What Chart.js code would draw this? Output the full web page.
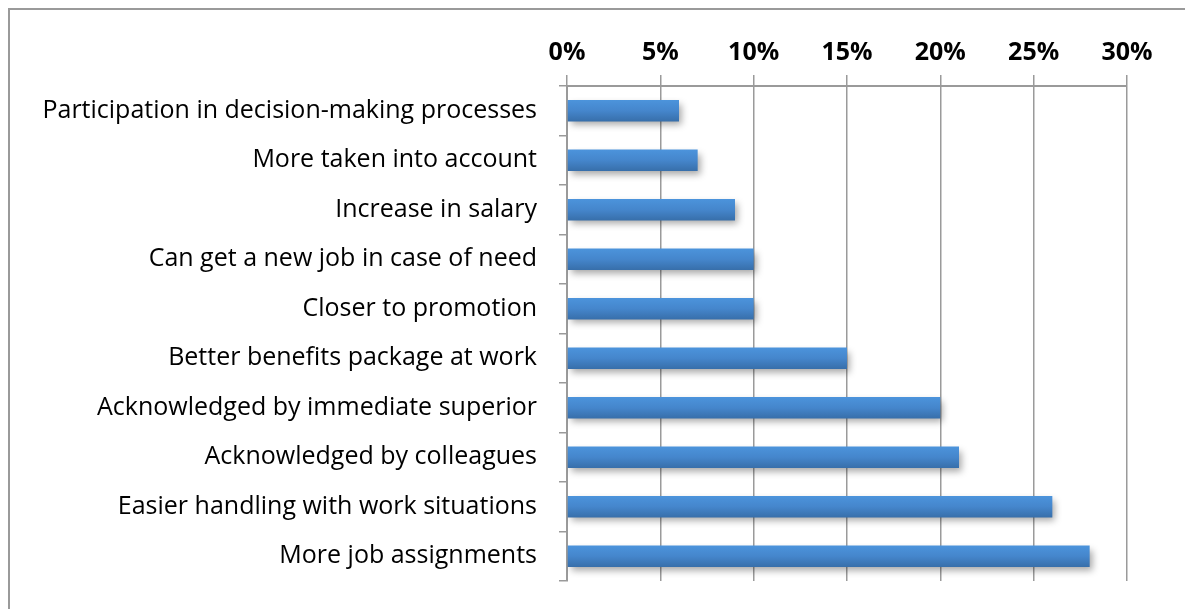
<!DOCTYPE html>
<html>
<head>
<meta charset="utf-8">
<script src="https://cdn.jsdelivr.net/npm/chart.js@4/dist/chart.umd.min.js"></script>
<style>
  html, body { margin: 0; padding: 0; background: #fff; }
  #wrap { position: relative; width: 1185px; height: 609px; }
</style>
</head>
<body>
<div id="wrap"><canvas id="chart"></canvas></div>
<script>
// ---------- data ----------
const categories = [
  "Participation in decision-making processes",
  "More taken into account",
  "Increase in salary",
  "Can get a new job in case of need",
  "Closer to promotion",
  "Better benefits package at work",
  "Acknowledged by immediate superior",
  "Acknowledged by colleagues",
  "Easier handling with work situations",
  "More job assignments",
];
const shares = [6, 7, 9, 10, 10, 15, 20, 21, 26, 28];
const tickValues = [0, 5, 10, 15, 20, 25, 30];

const GRID = "#9a9a9a";
const FONT = "'Open Sans', Lato, sans-serif";

// ---------- plugins ----------
const framePlugin = {
  id: "frame",
  beforeDraw(chart) {
    const ctx = chart.ctx;
    ctx.save();
    ctx.strokeStyle = GRID;
    ctx.lineWidth = 2;
    ctx.beginPath();
    ctx.moveTo(9, chart.height);
    ctx.lineTo(9, 9);
    ctx.lineTo(chart.width, 9);
    ctx.stroke();
    ctx.restore();
  },
};

const shadowPlugin = {
  id: "barShadow",
  beforeDatasetsDraw(chart) {
    const ctx = chart.ctx;
    ctx.save();
    ctx.shadowColor = "rgba(0,0,0,0.35)";
    ctx.shadowBlur = 7;
    ctx.shadowOffsetX = 3;
    ctx.shadowOffsetY = 4;
  },
  afterDatasetsDraw(chart) {
    chart.ctx.restore();
  },
};

function barFill(c) {
  const chart = c.chart;
  if (!chart.chartArea || c.dataIndex === undefined) return "#4a8fd6";
  const y = chart.scales.y.getPixelForValue(c.dataIndex);
  const g = chart.ctx.createLinearGradient(0, y - 11, 0, y + 11);
  g.addColorStop(0, "#4c94dc");
  g.addColorStop(0.5, "#4586cc");
  g.addColorStop(1, "#376ea9");
  return g;
}

// ---------- chart ----------
new Chart(document.getElementById("chart"), {
  type: "bar",
  data: {
    labels: categories,
    datasets: [{
      data: shares,
      backgroundColor: barFill,
      borderWidth: 0,
      barPercentage: 0.43,
      categoryPercentage: 1,
    }],
  },
  options: {
    indexAxis: "y",
    responsive: true,
    maintainAspectRatio: false,
    animation: false,
    devicePixelRatio: 1,
    layout: { padding: { left: 0, top: 0, right: 58, bottom: 28 } },
    scales: {
      x: {
        position: "top",
        min: 0,
        max: 30,
        afterBuildTicks: (s) => { s.ticks = tickValues.map((v) => ({ value: v })); },
        afterFit: (s) => { s.height = 86; s.paddingLeft = 0; s.paddingRight = 0; },
        grid: { color: GRID, lineWidth: 1.5, tickLength: 11, drawTicks: true },
        border: { color: GRID, width: 2 },
        ticks: {
          padding: 7,
          color: "#000",
          font: { family: FONT, size: 25, weight: "bold" },
          callback: (v) => v + "%",
        },
      },
      y: {
        afterFit: (s) => { s.width = 567; s.paddingTop = 0; s.paddingBottom = 0; },
        grid: { drawOnChartArea: false, color: GRID, lineWidth: 1.5, tickLength: 8 },
        border: { color: GRID, width: 2 },
        ticks: {
          padding: 22,
          color: "#000",
          font: { family: FONT, size: 25 },
        },
      },
    },
    plugins: {
      legend: { display: false },
      tooltip: { enabled: false },
    },
  },
  plugins: [framePlugin, shadowPlugin],
});
</script>
</body>
</html>
